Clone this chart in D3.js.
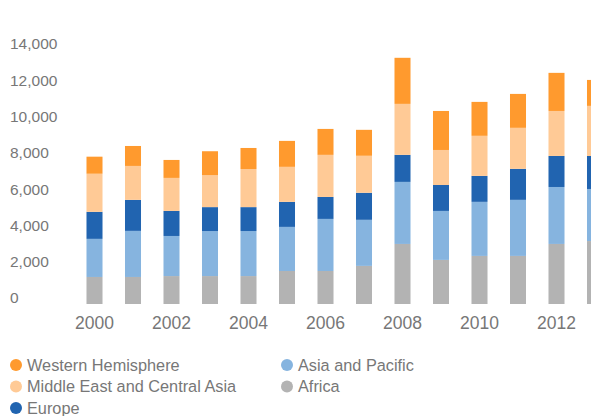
<!DOCTYPE html>
<html>
<head>
<meta charset="utf-8">
<script src="https://cdn.jsdelivr.net/npm/d3@7"></script>
<style>
  body { margin: 0; background: #fff; overflow: hidden; }
  text { font-family: "Liberation Sans", Arial, sans-serif; fill: #777; }
</style>
</head>
<body>
<svg id="chart" width="591" height="416"></svg>
<script>
// data
const years = [2000, 2001, 2002, 2003, 2004, 2005, 2006, 2007, 2008, 2009, 2010, 2011, 2012, 2013];
const africa   = [1490, 1490, 1540, 1540, 1540, 1820, 1820, 2100, 3310, 2430, 2650, 2650, 3310, 3470];
const asiaPac  = [2100, 2540, 2210, 2480, 2480, 2430, 2870, 2540, 3420, 2700, 2980, 3090, 3140, 2870];
const europe   = [1490, 1710, 1380, 1320, 1320, 1380, 1210, 1490, 1490, 1430, 1430, 1710, 1710, 1820];
const midEast  = [2100, 1870, 1820, 1760, 2100, 1930, 2320, 2040, 2810, 1930, 2210, 2260, 2480, 2760];
const westHemi = [ 940, 1100,  990, 1320, 1160, 1430, 1430, 1430, 2540, 2150, 1870, 1870, 2100, 1430];
const yTicks = [0, 2000, 4000, 6000, 8000, 10000, 12000, 14000];
const xTickYears = [2000, 2002, 2004, 2006, 2008, 2010, 2012];

// stacking order, bottom -> top
const series = [
  { key: 'africa',   name: 'Africa',                        color: '#b3b3b3', values: africa },
  { key: 'asiaPac',  name: 'Asia and Pacific',              color: '#86b4df', values: asiaPac },
  { key: 'europe',   name: 'Europe',                        color: '#2164b0', values: europe },
  { key: 'midEast',  name: 'Middle East and Central Asia',  color: '#ffca96', values: midEast },
  { key: 'westHemi', name: 'Western Hemisphere',            color: '#ff9a2e', values: westHemi }
];

const rows = years.map((yr, i) => {
  const r = { year: yr };
  series.forEach(s => r[s.key] = s.values[i]);
  return r;
});

const svg = d3.select('#chart');

// x: one band per year, bar ~16px in a 38.5px step; last bar runs off the edge
const x = d3.scaleBand()
  .domain(years)
  .range([75.25, 75.25 + years.length * 38.5])
  .paddingInner(0.584)
  .paddingOuter(0.292);

const y = d3.scaleLinear()
  .domain([0, 14000])
  .range([304, 50]);

const stack = d3.stack().keys(series.map(s => s.key));
const layers = stack(rows);

svg.append('g').selectAll('g')
  .data(layers)
  .join('g')
    .attr('fill', (d, i) => series[i].color)
  .selectAll('rect')
  .data(d => d)
  .join('rect')
    .attr('x', d => x(d.data.year))
    .attr('width', x.bandwidth())
    .attr('y', d => y(d[1]))
    .attr('height', d => y(d[0]) - y(d[1]));

// y labels (no axis line), sit a bit above their value
const fmt = d3.format(',');
svg.append('g').selectAll('text')
  .data(yTicks)
  .join('text')
    .attr('x', 10)
    .attr('y', d => y(d) - 6)
    .attr('dy', '0.35em')
    .style('font-size', '15.5px')
    .text(d => fmt(d));

// x labels every other year
svg.append('g').selectAll('text')
  .data(xTickYears)
  .join('text')
    .attr('x', d => x(d) + x.bandwidth() / 2)
    .attr('y', 322.5)
    .attr('dy', '0.35em')
    .attr('text-anchor', 'middle')
    .style('font-size', '17.5px')
    .text(d => d);

// legend
const legendOrder = ['westHemi', 'asiaPac', 'midEast', 'africa', 'europe'];
const legend = svg.append('g').selectAll('g')
  .data(legendOrder.map(k => series.find(s => s.key === k)))
  .join('g')
    .attr('transform', (d, i) => `translate(${i % 2 ? 287 : 16},${365 + Math.floor(i / 2) * 21.5})`);

legend.append('circle')
  .attr('r', 6)
  .attr('fill', d => d.color);

legend.append('text')
  .attr('x', 11)
  .attr('dy', '0.35em')
  .style('font-size', '16.3px')
  .text(d => d.name);
</script>
</body>
</html>
